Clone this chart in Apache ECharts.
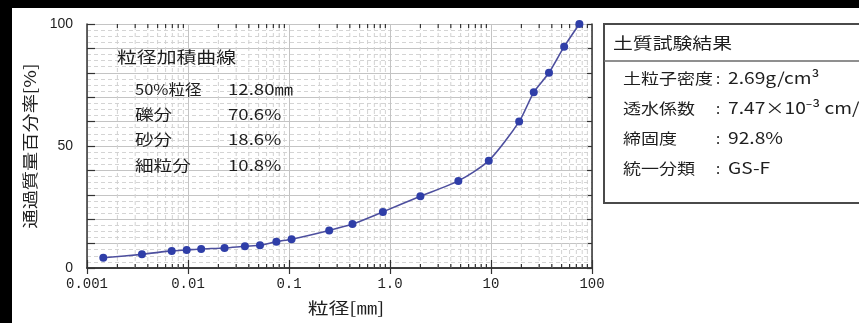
<!DOCTYPE html>
<html>
<head>
<meta charset="utf-8">
<script src="https://cdn.jsdelivr.net/npm/echarts@6/dist/echarts.min.js"></script>
<style>
  html, body { margin: 0; padding: 0; background: #fff; }
  #chart { width: 859px; height: 323px; }
</style>
</head>
<body>
<div id="chart"></div>
<script>
// Grain size distribution (particle size in mm vs. percent passing)
const grainSize = [0.00145, 0.0035, 0.0069, 0.0097, 0.0135, 0.023, 0.0366, 0.0516,
                   0.075, 0.106, 0.25, 0.425, 0.85, 2, 4.75, 9.5, 19, 26.5, 37.5, 53, 75];
const percentPassing = [4.2, 5.6, 7.0, 7.4, 7.8, 8.2, 8.9, 9.3,
                        10.8, 11.8, 15.4, 18.0, 23.0, 29.4, 35.7, 44.0, 60.0, 72.0, 80.0, 90.7, 100];

const xTickLabels = ['0.001', '0.01', '0.1', '1.0', '10', '100'];
const yTickLabelValues = [0, 50, 100];

const curveTitle = '粒径加積曲線';
const summaryLabels = ['50%粒径', '礫分', '砂分', '細粒分'];
const summaryValues = ['12.80㎜', '70.6%', '18.6%', '10.8%'];

const tableTitle = '土質試験結果';
const tableLabels = ['土粒子密度', '透水係数', '締固度', '統一分類'];
const tableValues = ['2.69g/cm³', '7.47×10⁻³ cm/s', '92.8%', 'GS-F'];

const xAxisName = '粒径[㎜]';
const yAxisName = '通過質量百分率[%]';

// Intermediate log positions (2..9 within each decade) for minor grid lines and ticks
const minorX = [];
for (let e = -3; e < 2; e++) {
  for (let m = 2; m <= 9; m++) minorX.push([m * Math.pow(10, e), 0]);
}

const FONT = '"Noto Sans CJK JP", "Noto Sans", sans-serif';
const AXIS = '#333';
const INK = '#1e1e1e';
const WIDE = 1.24; // horizontal stretch of the Japanese lettering

const chart = echarts.init(document.getElementById('chart'), null, { renderer: 'canvas' });

function label(x, y, text, size, opts) {
  return Object.assign({
    type: 'text', x: x, y: y, z: 50, scaleX: WIDE,
    style: { text: text, font: size + 'px ' + FONT, fill: INK, verticalAlign: 'middle' }
  }, opts || {});
}

const summaryGraphics = [label(117, 57, curveTitle, 16)];
summaryLabels.forEach((lab, i) => {
  const y = 89 + i * 25.3;
  summaryGraphics.push(label(135, y, lab, 15, i === 0 ? { scaleX: 1.1 } : null));
  summaryGraphics.push(label(228, y, summaryValues[i], 15));
});

const tableGraphics = [
  { type: 'rect', z: 40, shape: { x: 604, y: 24, width: 270, height: 179 },
    style: { fill: '#fff', stroke: '#4a4a4a', lineWidth: 2 } },
  { type: 'line', z: 41, shape: { x1: 604, y1: 61, x2: 860, y2: 61 },
    style: { stroke: '#6a6a6a', lineWidth: 1.5 } },
  label(613, 43, tableTitle, 16, { z: 42 })
];
tableLabels.forEach((lab, i) => {
  const y = 78 + i * 30;
  tableGraphics.push(label(623, y, lab, 15, { z: 42, scaleX: 1.2 }));
  tableGraphics.push(label(716, y, ':', 15, { z: 42, scaleX: 1 }));
  tableGraphics.push(label(728, y, tableValues[i], 16, { z: 42, scaleX: 1.2 }));
});

// axis titles
const axisTitleGraphics = [
  {
    type: 'text', x: 30, y: 146, z: 50, rotation: Math.PI / 2, scaleX: 1.2,
    style: { text: yAxisName, font: '16px ' + FONT, fill: INK, align: 'center', verticalAlign: 'middle' }
  },
  {
    type: 'text', x: 346, y: 308, z: 50, scaleX: 1.3,
    style: { text: xAxisName, font: '16px ' + FONT, fill: INK, align: 'center', verticalAlign: 'middle' }
  }
];

const frameGraphics = [
  { type: 'rect', z: 60, shape: { x: 0, y: 0, width: 859, height: 8 }, style: { fill: '#000' } },
  { type: 'rect', z: 60, shape: { x: 0, y: 0, width: 12, height: 323 }, style: { fill: '#000' } }
];

const option = {
  backgroundColor: '#fff',
  animation: false,
  grid: { left: 87, right: 267, top: 24, bottom: 55, containLabel: false },
  xAxis: [
    {
      type: 'log', logBase: 10, min: 0.001, max: 100,
      axisLine: { show: true, lineStyle: { color: AXIS, width: 1.5 } },
      axisTick: { show: true, inside: true, length: 8, lineStyle: { color: AXIS, width: 1.2 } },
      axisLabel: {
        margin: 9, fontFamily: '"Liberation Mono", "DejaVu Sans Mono", monospace', fontSize: 14, color: INK,
        formatter: (v, i) => xTickLabels[i] !== undefined ? xTickLabels[i] : ''
      },
      splitLine: { show: true, lineStyle: { color: '#c4c4c4', width: 1 } }
    },
    {
      type: 'log', logBase: 10, min: 0.001, max: 100, position: 'top',
      axisLine: { show: true, lineStyle: { color: AXIS, width: 1.5 } },
      axisTick: { show: true, inside: true, length: 6, lineStyle: { color: AXIS, width: 1.2 } },
      axisLabel: { show: false },
      splitLine: { show: false }
    }
  ],
  yAxis: [
    {
      type: 'value', min: 0, max: 100, interval: 10,
      axisLine: { show: true, lineStyle: { color: AXIS, width: 1.5 } },
      axisTick: { show: true, inside: true, length: 8, lineStyle: { color: AXIS, width: 1.2 } },
      axisLabel: {
        margin: 14, fontFamily: '"Liberation Sans", Arial, sans-serif', fontSize: 14, color: INK,
        formatter: v => yTickLabelValues.indexOf(v) >= 0 ? String(v) : ''
      },
      splitLine: { show: true, lineStyle: { color: '#c4c4c4', width: 1 } },
      minorTick: { show: false, splitNumber: 4 },
      minorSplitLine: { show: true, lineStyle: { color: '#d4d4d4', width: 1, type: [4, 3] } }
    },
    {
      type: 'value', min: 0, max: 100, interval: 10, position: 'right',
      axisLine: { show: true, lineStyle: { color: AXIS, width: 1.5 } },
      axisTick: { show: true, inside: true, length: 5, lineStyle: { color: AXIS, width: 1.2 } },
      axisLabel: { show: false },
      splitLine: { show: false }
    }
  ],
  series: [
    {
      // minor log grid lines with short inward ticks on bottom and top edges
      type: 'custom',
      xAxisIndex: 0, yAxisIndex: 0,
      silent: true, z: 1, clip: false,
      data: minorX,
      renderItem: (params, api) => {
        const x = api.value(0);
        const pb = api.coord([x, 0]);
        const pt = api.coord([x, 100]);
        const tick = 4;
        return {
          type: 'group',
          children: [
            { type: 'line', shape: { x1: pb[0], y1: pb[1], x2: pt[0], y2: pt[1] },
              style: { stroke: '#d2d2d2', lineWidth: 1, lineDash: [4, 3] } },
            { type: 'line', shape: { x1: pb[0], y1: pb[1], x2: pb[0], y2: pb[1] - tick },
              style: { stroke: AXIS, lineWidth: 1.2 } },
            { type: 'line', shape: { x1: pt[0], y1: pt[1], x2: pt[0], y2: pt[1] + tick },
              style: { stroke: AXIS, lineWidth: 1.2 } }
          ]
        };
      }
    },
    {
      type: 'line',
      xAxisIndex: 0, yAxisIndex: 0, z: 5,
      data: grainSize.map((g, i) => [g, percentPassing[i]]),
      smooth: 0.25,
      symbol: 'circle', symbolSize: 8,
      lineStyle: { color: '#4d4f9e', width: 1.6 },
      itemStyle: { color: '#2f3ea8' }
    }
  ],
  graphic: [].concat(summaryGraphics, tableGraphics, axisTitleGraphics, frameGraphics)
};

chart.setOption(option);
</script>
</body>
</html>
